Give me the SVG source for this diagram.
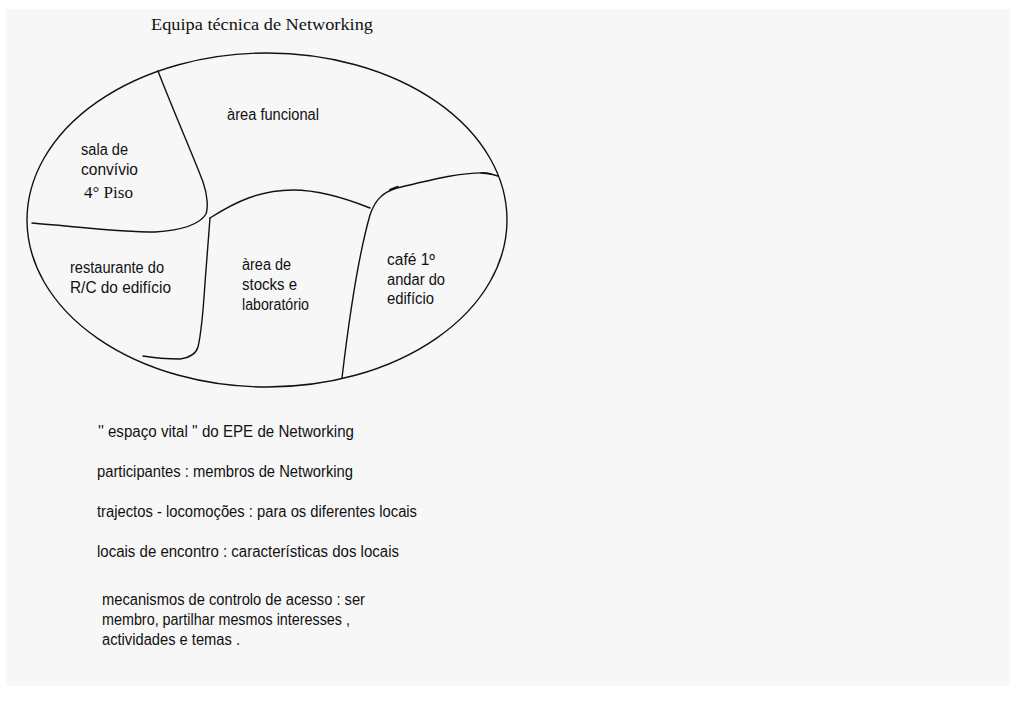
<svg xmlns="http://www.w3.org/2000/svg" width="1010" height="704" viewBox="0 0 1010 704">
<style>
.s{font-family:"Liberation Sans",Arial,sans-serif;font-size:16px;fill:#111}
.t{font-family:"Liberation Serif","Times New Roman",serif;font-size:17px;fill:#111}
.ln{fill:none;stroke:#111;stroke-width:1.4;stroke-linecap:round;stroke-linejoin:round}
</style>
<rect x="0" y="0" width="1010" height="704" fill="#ffffff"/>
<rect x="6" y="9" width="1004" height="677" fill="#f7f7f7"/>
<g id="title"><text class="t" x="151" y="30" textLength="222" lengthAdjust="spacingAndGlyphs">Equipa técnica de Networking</text></g>
<g id="espaco"><ellipse class="ln" cx="267" cy="220" rx="240" ry="167"/></g>
<g id="connectors">
<path class="ln" d="M158,71 C175,115 195,160 203,182 C208,196 208,208 206,214 C200,224 185,230 155,232 C120,232 80,227 32,223"/>
<path class="ln" d="M210,218 L205,283 Q202,330 198,347 Q195,357 180,359 Q160,359 143,356"/>
<path class="ln" d="M210,218 C235,202 260,190 293,190 C320,190 345,198 370,208"/>
<path class="ln" d="M342,378 C350,310 360,250 370,215 C375,200 383,192 397,188 C430,180 460,172 487,173 L498,176"/>
<path class="ln" d="M390,189.5 L398,186.5" stroke-width="2.2"/>
<path class="ln" d="M481,173 L491,174" stroke-width="2"/>
</g>
<g id="area-funcional"><text class="s" x="227" y="120" textLength="92" lengthAdjust="spacingAndGlyphs">àrea funcional</text></g>
<g id="sala-convivio">
<text class="s" x="81" y="155" textLength="47" lengthAdjust="spacingAndGlyphs">sala de</text>
<text class="s" x="81" y="175" textLength="57" lengthAdjust="spacingAndGlyphs">convívio</text>
<text class="t" x="84" y="198" textLength="49" lengthAdjust="spacingAndGlyphs">4° Piso</text>
</g>
<g id="restaurante">
<text class="s" x="70" y="273" textLength="94" lengthAdjust="spacingAndGlyphs">restaurante do</text>
<text class="s" x="70" y="293" textLength="101" lengthAdjust="spacingAndGlyphs">R/C do edifício</text>
</g>
<g id="stocks">
<text class="s" x="242" y="270" textLength="49" lengthAdjust="spacingAndGlyphs">àrea de</text>
<text class="s" x="242" y="290" textLength="55" lengthAdjust="spacingAndGlyphs">stocks e</text>
<text class="s" x="242" y="310" textLength="67" lengthAdjust="spacingAndGlyphs">laboratório</text>
</g>
<g id="cafe">
<text class="s" x="387" y="265" textLength="48" lengthAdjust="spacingAndGlyphs">café 1º</text>
<text class="s" x="387" y="285" textLength="58" lengthAdjust="spacingAndGlyphs">andar do</text>
<text class="s" x="387" y="304" textLength="47" lengthAdjust="spacingAndGlyphs">edifício</text>
</g>
<g id="notes">
<text class="s" x="98" y="437" textLength="256" lengthAdjust="spacingAndGlyphs">'' espaço vital '' do EPE de Networking</text>
<text class="s" x="97" y="477" textLength="256" lengthAdjust="spacingAndGlyphs">participantes : membros de Networking</text>
<text class="s" x="97" y="517" textLength="320" lengthAdjust="spacingAndGlyphs">trajectos - locomoções : para os diferentes locais</text>
<text class="s" x="97" y="557" textLength="302" lengthAdjust="spacingAndGlyphs">locais de encontro : características dos locais</text>
<text class="s" x="102" y="605" textLength="263" lengthAdjust="spacingAndGlyphs">mecanismos de controlo de acesso : ser</text>
<text class="s" x="102" y="625" textLength="248" lengthAdjust="spacingAndGlyphs">membro, partilhar mesmos interesses ,</text>
<text class="s" x="102" y="645" textLength="138" lengthAdjust="spacingAndGlyphs">actividades e temas .</text>
</g>
</svg>
